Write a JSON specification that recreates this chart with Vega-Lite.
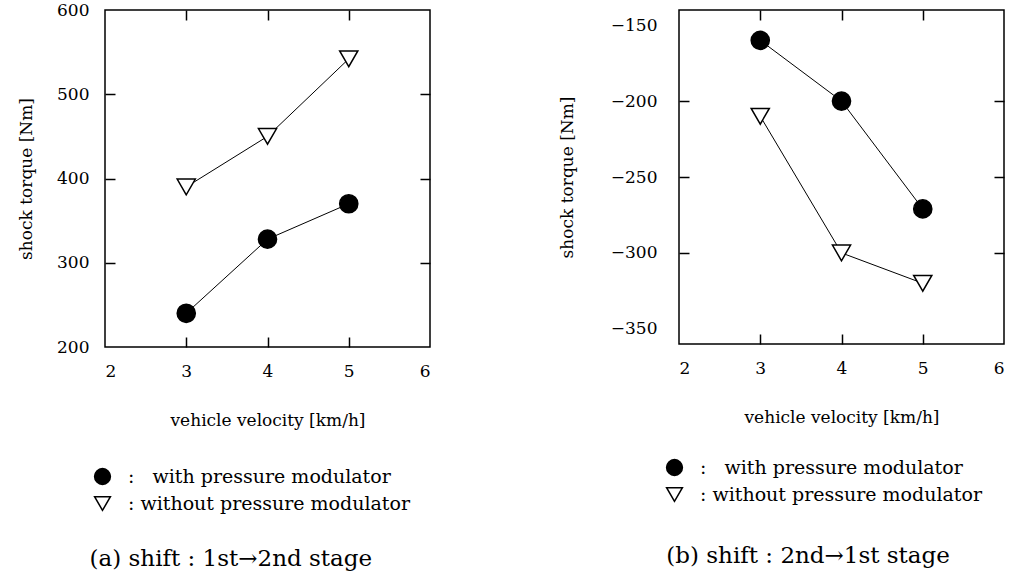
{
  "$schema": "https://vega.github.io/schema/vega-lite/v6.json",
  "background": "white",
  "padding": {"left": 16, "top": 0, "right": 5, "bottom": 5},
  "spacing": 125,
  "resolve": {"scale": {"shape": "independent", "fill": "independent"}, "legend": {"shape": "independent", "fill": "independent"}},
  "config": {
    "font": "DejaVu Serif",
    "view": {"stroke": "black", "strokeWidth": 1.5},
    "axis": {
      "domain": false, "grid": false, "tickColor": "black", "tickSize": 10, "tickWidth": 1.5,
      "labelColor": "black", "labelFont": "DejaVu Serif", "labelFontSize": 17, "labelPadding": 16,
      "titleColor": "black", "titleFont": "DejaVu Serif", "titleFontSize": 17, "titleFontWeight": "normal"
    },
    "legend": {"labelFont": "DejaVu Serif", "labelFontSize": 19, "labelColor": "black", "labelLimit": 0}
  },
  "hconcat": [
    {
      "width": 325, "height": 337,
      "title": {"text": "(a)  shift : 1st→2nd stage", "orient": "bottom", "anchor": "start", "fontSize": 23, "font": "DejaVu Serif", "fontWeight": "normal", "color": "black", "offset": 34, "dx": 72},
      "data": {"values": [
        {"v": 3, "t": 240, "s": "with"}, {"v": 4, "t": 328, "s": "with"}, {"v": 5, "t": 370, "s": "with"},
        {"v": 3, "t": 390, "s": "without"}, {"v": 4, "t": 450, "s": "without"}, {"v": 5, "t": 542, "s": "without"}
      ]},
      "layer": [
        {
          "mark": {"type": "line", "color": "black", "strokeWidth": 1},
          "encoding": {
            "x": {"field": "v", "type": "quantitative", "scale": {"domain": [2, 6]}, "axis": {"orient": "bottom", "ticks": false, "title": "vehicle velocity [km/h]", "values": [2, 3, 4, 5, 6], "titlePadding": 33}},
            "y": {"field": "t", "type": "quantitative", "scale": {"domain": [200, 600]}, "axis": {"orient": "left", "ticks": false, "title": "shock torque [Nm]", "values": [200, 300, 400, 500, 600], "titlePadding": 21}},
            "detail": {"field": "s"}
          }
        },
        {
          "mark": {"type": "point", "filled": false, "stroke": "black", "strokeWidth": 1.5, "opacity": 1},
          "encoding": {
            "x": {"field": "v", "type": "quantitative", "axis": {"orient": "top", "offset": -337, "labels": false, "title": null, "values": [3, 4, 5]}},
            "y": {"field": "t", "type": "quantitative", "axis": {"orient": "right", "offset": -325, "labels": false, "title": null, "values": [300, 400, 500]}},
            "shape": {"field": "s", "type": "nominal", "scale": {"domain": ["with", "without"], "range": ["circle", "triangle-down"]},
              "legend": {"title": null, "orient": "none", "legendX": -12, "legendY": 457, "symbolSize": 250, "rowPadding": 5, "labelOffset": 16,
                "labelExpr": "datum.value == 'with' ? ':\u00a0\u00a0\u00a0with pressure modulator' : ': without pressure modulator'",
                "encode": {"symbols": {"update": {"stroke": {"value": "black"}, "strokeWidth": {"value": 1.2}}}}}},
            "fill": {"field": "s", "type": "nominal", "scale": {"domain": ["with", "without"], "range": ["black", "white"]}, "legend": null},
            "size": {"value": 330}
          }
        },
        {
          "mark": {"type": "point", "opacity": 0},
          "encoding": {
            "x": {"field": "v", "type": "quantitative", "axis": {"orient": "bottom", "offset": -337, "labels": false, "title": null, "values": [3, 4, 5]}},
            "y": {"field": "t", "type": "quantitative", "axis": {"orient": "left", "offset": -325, "labels": false, "title": null, "values": [300, 400, 500]}}
          }
        }
      ],
      "resolve": {"axis": {"x": "independent", "y": "independent"}}
    },
    {
      "width": 325, "height": 334,
      "title": {"text": "(b)  shift : 2nd→1st stage", "orient": "bottom", "anchor": "start", "fontSize": 23, "font": "DejaVu Serif", "fontWeight": "normal", "color": "black", "offset": 40, "dx": 108},
      "data": {"values": [
        {"v": 3, "t": -160, "s": "with"}, {"v": 4, "t": -200, "s": "with"}, {"v": 5, "t": -271, "s": "with"},
        {"v": 3, "t": -210, "s": "without"}, {"v": 4, "t": -300, "s": "without"}, {"v": 5, "t": -320, "s": "without"}
      ]},
      "layer": [
        {
          "mark": {"type": "line", "color": "black", "strokeWidth": 1},
          "encoding": {
            "x": {"field": "v", "type": "quantitative", "scale": {"domain": [2, 6]}, "axis": {"orient": "bottom", "ticks": false, "title": "vehicle velocity [km/h]", "values": [2, 3, 4, 5, 6], "titlePadding": 33}},
            "y": {"field": "t", "type": "quantitative", "scale": {"domain": [-350, -150]}, "axis": {"orient": "left", "ticks": false, "title": "shock torque [Nm]", "values": [-350, -300, -250, -200, -150], "titlePadding": 34, "labelPadding": 22}},
            "detail": {"field": "s"}
          }
        },
        {
          "mark": {"type": "point", "filled": false, "stroke": "black", "strokeWidth": 1.5, "opacity": 1},
          "encoding": {
            "x": {"field": "v", "type": "quantitative", "axis": {"orient": "top", "offset": -334, "labels": false, "title": null, "values": [3, 4, 5]}},
            "y": {"field": "t", "type": "quantitative", "axis": {"orient": "right", "offset": -325, "labels": false, "title": null, "values": [-300, -250, -200]}},
            "shape": {"field": "s", "type": "nominal", "scale": {"domain": ["with", "without"], "range": ["circle", "triangle-down"]},
              "legend": {"title": null, "orient": "none", "legendX": -14, "legendY": 448, "symbolSize": 250, "rowPadding": 5, "labelOffset": 16,
                "labelExpr": "datum.value == 'with' ? ':\u00a0\u00a0\u00a0with pressure modulator' : ': without pressure modulator'",
                "encode": {"symbols": {"update": {"stroke": {"value": "black"}, "strokeWidth": {"value": 1.2}}}}}},
            "fill": {"field": "s", "type": "nominal", "scale": {"domain": ["with", "without"], "range": ["black", "white"]}, "legend": null},
            "size": {"value": 330}
          }
        },
        {
          "mark": {"type": "point", "opacity": 0},
          "encoding": {
            "x": {"field": "v", "type": "quantitative", "axis": {"orient": "bottom", "offset": -334, "labels": false, "title": null, "values": [3, 4, 5]}},
            "y": {"field": "t", "type": "quantitative", "axis": {"orient": "left", "offset": -325, "labels": false, "title": null, "values": [-300, -250, -200]}}
          }
        }
      ],
      "resolve": {"axis": {"x": "independent", "y": "independent"}}
    }
  ]
}
